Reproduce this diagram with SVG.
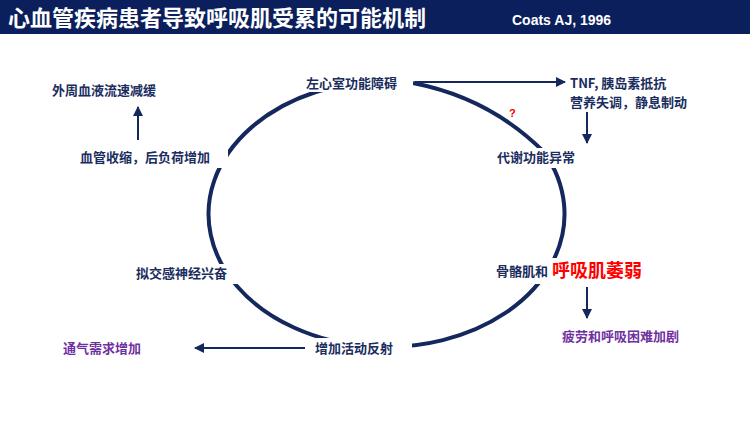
<svg xmlns="http://www.w3.org/2000/svg" width="750" height="421" viewBox="0 0 750 421">
<style>
.t{font-family:"Noto Sans CJK SC","Liberation Sans",sans-serif;font-weight:bold;font-size:13px;fill:#1a2d5e}
.p{fill:#7030a0}
.bg{fill:#fff}
.ln{stroke:#14285e;stroke-width:2;fill:none}
</style>
<defs><marker id="a" viewBox="0 0 10 10" refX="9" refY="5" markerWidth="5" markerHeight="5" orient="auto"><path d="M0,0L10,5L0,10z" fill="#14285e"/></marker></defs>
<rect width="750" height="421" fill="#fff"/>
<rect width="750" height="34" fill="#0b1f5c"/>
<text x="8" y="26" font-family="Noto Sans CJK SC,sans-serif" font-weight="bold" font-size="22" fill="#fff">心血管疾病患者导致呼吸肌受累的可能机制</text>
<text x="512" y="25" font-family="Liberation Sans,sans-serif" font-weight="bold" font-size="14" fill="#fff">Coats AJ, 1996</text>
<g id="connectors">
<path d="M387,81 A178,133 0 1 0 544,152" fill="none" stroke="#14285e" stroke-width="4"/>
<path d="M413,83 Q490,98 544,152" fill="none" stroke="#14285e" stroke-width="4"/>
<line class="ln" x1="415" y1="82" x2="565" y2="82" stroke-width="3" marker-end="url(#a)"/>
<line class="ln" x1="587" y1="112" x2="587" y2="143" marker-end="url(#a)"/>
<line class="ln" x1="138" y1="140" x2="138" y2="107" marker-end="url(#a)"/>
<line class="ln" x1="587" y1="287" x2="587" y2="318" marker-end="url(#a)"/>
<line class="ln" x1="305" y1="348" x2="195" y2="348" marker-end="url(#a)"/>
</g>
<g id="n1"><rect class="bg" x="303" y="72" width="110" height="20"/><text class="t" x="306" y="88">左心室功能障碍</text></g>
<g id="n2"><text class="t" x="570" y="88">TNF, 胰岛素抵抗</text><text class="t" x="570" y="107">营养失调，静息制动</text></g>
<g id="q"><text x="509" y="117" font-family="Liberation Sans,sans-serif" font-weight="bold" font-size="11" fill="#e00">?</text></g>
<g id="n3"><rect class="bg" x="495" y="148" width="90" height="20"/><text class="t" x="497" y="162">代谢功能异常</text></g>
<g id="n4"><rect class="bg" x="492" y="258" width="170" height="26"/><text class="t" x="496" y="276">骨骼肌和</text><text x="552" y="277" font-family="Noto Sans CJK SC,sans-serif" font-weight="bold" font-size="18" fill="#f00">呼吸肌萎弱</text></g>
<g id="n5"><text class="t p" x="562" y="341">疲劳和呼吸困难加剧</text></g>
<g id="n6"><rect class="bg" x="312" y="338" width="100" height="20"/><text class="t" x="315" y="353">增加活动反射</text></g>
<g id="n7"><text class="t p" x="63" y="353">通气需求增加</text></g>
<g id="n8"><rect class="bg" x="133" y="264" width="110" height="20"/><text class="t" x="136" y="278">拟交感神经兴奋</text></g>
<g id="n9"><rect class="bg" x="78" y="148" width="150" height="20"/><text class="t" x="80" y="162">血管收缩，后负荷增加</text></g>
<g id="n10"><text class="t" x="52" y="95">外周血液流速减缓</text></g>
</svg>
